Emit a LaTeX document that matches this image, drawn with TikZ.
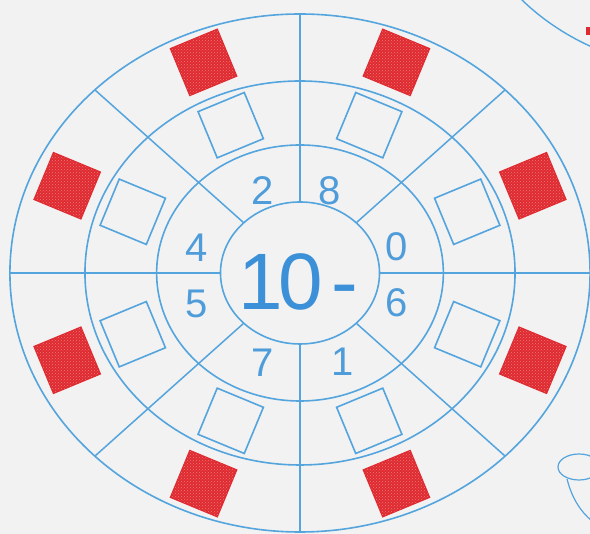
\documentclass[tikz,border=0pt]{standalone}
\usepackage{fontspec}
\setmainfont{Liberation Sans}
\usetikzlibrary{patterns}
\definecolor{bg}{RGB}{242,242,242}
\definecolor{ln}{RGB}{84,164,222}
\definecolor{dg}{RGB}{78,156,218}
\definecolor{big}{RGB}{60,144,216}
\definecolor{rd}{RGB}{222,42,48}
\definecolor{rdl}{RGB}{240,120,120}
\tikzset{
  ring/.style={draw=ln, line width=1.6pt},
  spoke/.style={draw=ln, line width=1.5pt},
  box/.style={draw=ln, line width=1.6pt},
  dig/.style={text=dg, font=\fontsize{40}{40}\selectfont, inner sep=0pt},
  bignum/.style={text=big, font=\fontsize{80}{80}\selectfont, inner sep=0pt, anchor=base west},
}
\begin{document}
\begin{tikzpicture}[x=1pt,y=1pt]
\useasboundingbox (-300,-261) rectangle (290,273);
\fill[bg] (-300,-261) rectangle (290,273);
\clip (-300,-261) rectangle (290,273);
% rings and spokes
\begin{scope}[xscale=1.12]
  \foreach \r in {259,192,128,71} \draw[ring] (0,0) circle[radius=\r];
  \foreach \a in {0,45,...,315} \draw[spoke] (\a:71) -- (\a:259);
\end{scope}
% outlined squares (middle ring)
\foreach \a in {22.5,67.5,...,337.5} {
  \draw[box, shift={({181*cos(\a)},{160*sin(\a)})}, rotate=\a] (-25,-25) rectangle (25,25);
}
% red squares (outer ring)
\foreach \a in {22.5,67.5,...,337.5} {
  \fill[rd, shift={({252*cos(\a)},{228*sin(\a)})}, rotate=\a] (-26,-26) rectangle (26,26);
  \fill[pattern=crosshatch dots, pattern color=rdl, shift={({252*cos(\a)},{228*sin(\a)})}, rotate=\a] (-25,-25) rectangle (25,25);
}
% digits
\node[dig] (d2) at (-37,82) {2};
\node[dig] (d8) at (30,82) {8};
\node[dig] (d4) at (-103,25) {4};
\node[dig] (d0) at (97,26) {0};
\node[dig] (d5) at (-103,-31) {5};
\node[dig] (d6) at (97,-30) {6};
\node[dig] (d7) at (-37,-90) {7};
\node[dig] (d1) at (43,-89) {1};
\node[bignum] (ten) at (-62,-37) {1\kern-4pt 0};
\node[bignum] (minus) at (31,-37) {-};
% fragments of neighbouring drawings
\draw[ring, line width=1.4pt] (220,275) .. controls (240,255) and (265,238) .. (292,226);
\fill[rd] (286,238) rectangle (292,246);
\draw[ring, line width=1.2pt] (279,-194) ellipse[x radius=21, y radius=13];
\draw[ring, line width=1.2pt] (267,-206) .. controls (272,-225) and (280,-238) .. (292,-248);
\end{tikzpicture}
\end{document}
